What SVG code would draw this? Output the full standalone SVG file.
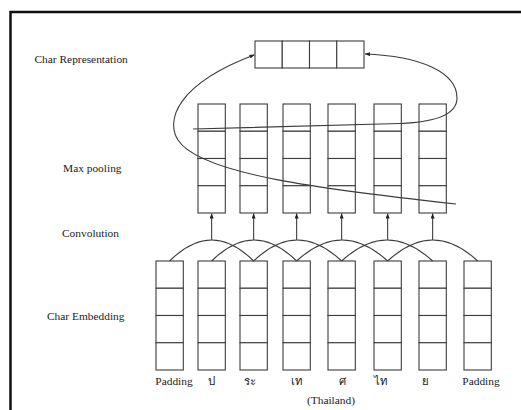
<svg xmlns="http://www.w3.org/2000/svg" width="521" height="410" viewBox="0 0 521 410">
<defs>
<style>
.cell{fill:#fff;stroke:#3c3c3c;stroke-width:1.1}
.lbl{font-family:"Liberation Serif","DejaVu Serif","Noto Sans",serif;font-size:11.4px;fill:#222}
.tok{font-family:"Liberation Serif","DejaVu Sans","Noto Sans",serif;font-size:11.4px;fill:#222;text-anchor:middle}
.con{fill:none;stroke:#3c3c3c;stroke-width:1.1}
.arr{fill:none;stroke:#3c3c3c;stroke-width:1.1;marker-end:url(#ah)}
</style>
<marker id="ah" markerUnits="userSpaceOnUse" markerWidth="6" markerHeight="5" refX="5" refY="2" orient="auto">
<path d="M0,0 L5,2 L0,4 z" fill="#222"/>
</marker>
<g id="col4">
<rect class="cell" x="0" y="0" width="27.3" height="27.25"/>
<rect class="cell" x="0" y="27.25" width="27.3" height="27.25"/>
<rect class="cell" x="0" y="54.5" width="27.3" height="27.25"/>
<rect class="cell" x="0" y="81.75" width="27.3" height="27.25"/>
</g>
</defs>
<rect width="521" height="410" fill="#fff"/>
<rect x="10.5" y="12" width="600" height="500" fill="none" stroke="#111" stroke-width="2.5"/>

<g id="labels">
<text class="lbl" x="34.5" y="63">Char Representation</text>
<text class="lbl" x="63" y="172">Max pooling</text>
<text class="lbl" x="62" y="237">Convolution</text>
<text class="lbl" x="47" y="320">Char Embedding</text>
</g>

<g id="char-representation">
<rect class="cell" x="255" y="41" width="27.25" height="27"/>
<rect class="cell" x="282.25" y="41" width="27.25" height="27"/>
<rect class="cell" x="309.5" y="41" width="27.25" height="27"/>
<rect class="cell" x="336.75" y="41" width="27.25" height="27"/>
</g>

<g id="maxpool">
<use id="mp1" href="#col4" x="198" y="104"/>
<use id="mp2" href="#col4" x="240" y="104"/>
<use id="mp3" href="#col4" x="283" y="104"/>
<use id="mp4" href="#col4" x="328" y="104"/>
<use id="mp5" href="#col4" x="374" y="104"/>
<use id="mp6" href="#col4" x="419" y="104"/>
</g>

<g id="embedding">
<use id="emb1" href="#col4" x="156" y="261"/>
<use id="emb2" href="#col4" x="198" y="261"/>
<use id="emb3" href="#col4" x="240" y="261"/>
<use id="emb4" href="#col4" x="283" y="261"/>
<use id="emb5" href="#col4" x="328" y="261"/>
<use id="emb6" href="#col4" x="374" y="261"/>
<use id="emb7" href="#col4" x="419" y="261"/>
<use id="emb8" href="#col4" x="464" y="261"/>
</g>

<g id="tokens">
<text class="tok" x="174" y="384.5">Padding</text>
<text class="tok" x="211.5" y="384.5">ป</text>
<text class="tok" x="250" y="384.5">ระ</text>
<text class="tok" x="297" y="384.5">เท</text>
<text class="tok" x="342.5" y="384.5">ศ</text>
<text class="tok" x="381" y="384.5">ไท</text>
<text class="tok" x="425" y="384.5">ย</text>
<text class="tok" x="481" y="384.5">Padding</text>
<text class="tok" x="331" y="404">(Thailand)</text>
</g>

<g id="connectors">
<path class="con" d="M169.65,261 Q211.65,219 253.65,261"/>
<path class="con" d="M211.65,261 Q254,219 296.65,261"/>
<path class="con" d="M253.65,261 Q297,219 341.65,261"/>
<path class="con" d="M296.65,261 Q342,219 387.65,261"/>
<path class="con" d="M341.65,261 Q387,219 432.65,261"/>
<path class="con" d="M387.65,261 Q433,219 477.65,261"/>
<path class="arr" d="M211.65,240 V213.5"/>
<path class="arr" d="M253.65,240 V213.5"/>
<path class="arr" d="M296.65,240 V213.5"/>
<path class="arr" d="M341.65,240 V213.5"/>
<path class="arr" d="M387.65,240 V213.5"/>
<path class="arr" d="M432.65,240 V213.5"/>
<path class="arr" d="M456,204 C330,190 200,175 178,140 C166,121 175,85 254.5,54.8"/>
<path class="arr" d="M193,129 L400,123.5 C440,122 457,113 457,98 C457,72 420,56 365,54"/>
</g>
</svg>
